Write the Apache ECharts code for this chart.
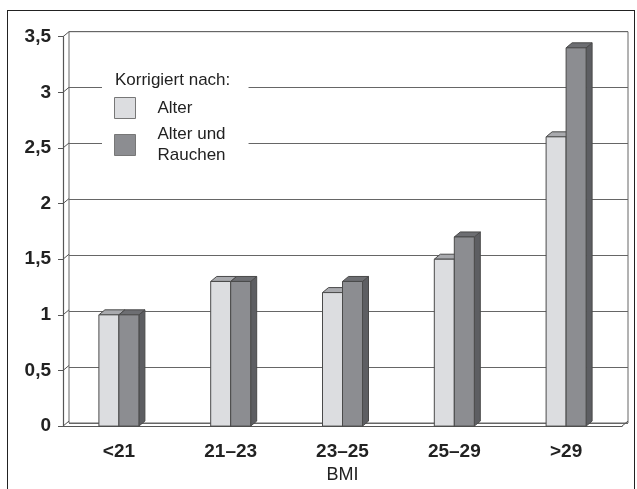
<!DOCTYPE html>
<html>
<head>
<meta charset="utf-8">
<script src="https://cdn.jsdelivr.net/npm/echarts@6/dist/echarts.min.js"></script>
<style>
  html, body { margin: 0; padding: 0; background: #fff; }
  #frame {
    position: absolute; left: 7px; top: 10px; width: 628px; height: 490px;
    border: 1.5px solid #222; box-sizing: border-box;
  }
  #chart { position: absolute; left: 0; top: 0; width: 637px; height: 489px; }
</style>
</head>
<body>
<div id="frame"></div>
<div id="chart"></div>
<script>
// data
const categories = ['<21', '21–23', '23–25', '25–29', '>29']
const alter = [1.0, 1.3, 1.2, 1.5, 2.6]
const alterRauchen = [1.0, 1.3, 1.3, 1.7, 3.4]
const yTicks = [0, 0.5, 1, 1.5, 2, 2.5, 3, 3.5]

const depthX = 6
const depthY = 5
const barW = 20
const font = '"Liberation Sans", Arial, sans-serif'

const light = { front: '#dcdde0', top: '#a9aaae', side: '#b3b4b7' }
const dark = { front: '#8c8d91', top: '#6d6e72', side: '#5d5e62' }

const makeBar = (colors, leftSide) => (params, api) => {
  const top = api.coord([api.value(0), api.value(1)])
  const base = api.coord([api.value(0), 0])
  const x0 = leftSide ? top[0] - barW : top[0]
  const x1 = x0 + barW
  const y = top[1]
  const yb = base[1]
  const stroke = { stroke: '#4a4a4a', lineWidth: 1 }
  return {
    type: 'group',
    children: [
      {
        type: 'polygon',
        shape: { points: [[x1, y], [x1 + depthX, y - depthY], [x1 + depthX, yb - depthY], [x1, yb]] },
        style: Object.assign({ fill: colors.side }, stroke)
      },
      {
        type: 'polygon',
        shape: { points: [[x0, y], [x0 + depthX, y - depthY], [x1 + depthX, y - depthY], [x1, y]] },
        style: Object.assign({ fill: colors.top }, stroke)
      },
      {
        type: 'rect',
        shape: { x: x0, y: y, width: barW, height: yb - y },
        style: Object.assign({ fill: colors.front }, stroke)
      }
    ]
  }
}

// little diagonals joining the front axis ticks with the back wall
const renderDepth = (params, api) => {
  const cs = params.coordSys
  const p = api.coord([0, api.value(0)])
  const x = cs.x
  const lines = [{
    type: 'line',
    shape: { x1: x, y1: p[1], x2: x + depthX, y2: p[1] - depthY },
    style: { stroke: '#555', lineWidth: 1 }
  }]
  if (api.value(0) === 0) {
    const xr = cs.x + cs.width
    lines.push({
      type: 'line',
      shape: { x1: xr, y1: p[1], x2: xr + depthX, y2: p[1] - depthY },
      style: { stroke: '#555', lineWidth: 1 }
    })
  }
  return { type: 'group', children: lines }
}

const chart = echarts.init(document.getElementById('chart'))

const option = {
  animation: false,
  textStyle: { fontFamily: font },
  grid: [
    { left: 63, right: 15, top: 36.7, bottom: 61 },
    { left: 63 + depthX, right: 15 - depthX, top: 36.7 - depthY, bottom: 61 + depthY,
      show: true, borderColor: '#666', borderWidth: 1 }
  ],
  xAxis: [
    {
      type: 'category',
      gridIndex: 0,
      data: categories,
      axisLine: { lineStyle: { color: '#555', width: 1.2 } },
      axisTick: { length: 4, lineStyle: { color: '#555' } },
      axisLabel: { color: '#222', fontWeight: 'bold', fontSize: 19, margin: 16, fontFamily: font },
      name: 'BMI',
      nameLocation: 'middle',
      nameGap: 35,
      nameTextStyle: { color: '#222', fontSize: 18, fontFamily: font }
    },
    { type: 'category', gridIndex: 1, data: categories, show: false }
  ],
  yAxis: [
    {
      type: 'value',
      gridIndex: 0,
      min: 0,
      max: 3.5,
      interval: 0.5,
      axisLine: { show: true, lineStyle: { color: '#555', width: 1.2 } },
      axisTick: { show: true, length: 5, lineStyle: { color: '#555' } },
      splitLine: { show: false },
      axisLabel: {
        color: '#222', fontWeight: 'bold', fontSize: 19, margin: 12, fontFamily: font,
        formatter: v => String(v).replace('.', ',')
      }
    },
    {
      type: 'value',
      gridIndex: 1,
      min: 0,
      max: 3.5,
      interval: 0.5,
      axisLine: { show: false },
      axisTick: { show: false },
      axisLabel: { show: false },
      splitLine: { lineStyle: { color: '#666', width: 1.2 } }
    }
  ],
  legend: {
    orient: 'vertical',
    left: 102,
    top: 60,
    padding: [37, 23, 20, 12],
    backgroundColor: '#fff',
    itemWidth: 21,
    itemHeight: 21,
    itemGap: 5,
    icon: 'rect',
    data: ['Alter', 'Alter und Rauchen'],
    formatter: name => name.replace('und ', 'und\n'),
    itemStyle: { borderColor: '#777', borderWidth: 1 },
    textStyle: { color: '#222', fontSize: 17, lineHeight: 21, padding: [0, 0, 0, 17], fontFamily: font }
  },
  graphic: [
    {
      type: 'text',
      left: 115,
      top: 72,
      z: 100,
      style: { text: 'Korrigiert nach:', fill: '#222', font: '17px ' + font }
    }
  ],
  series: [
    {
      name: 'Alter',
      type: 'custom',
      xAxisIndex: 0,
      yAxisIndex: 0,
      renderItem: makeBar(light, true),
      itemStyle: { color: light.front, borderColor: '#4a4a4a', borderWidth: 1 },
      encode: { x: 0, y: 1 },
      data: alter.map((v, i) => [i, v]),
      z: 3
    },
    {
      name: 'Alter und Rauchen',
      type: 'custom',
      xAxisIndex: 0,
      yAxisIndex: 0,
      renderItem: makeBar(dark, false),
      itemStyle: { color: dark.front, borderColor: '#4a4a4a', borderWidth: 1 },
      encode: { x: 0, y: 1 },
      data: alterRauchen.map((v, i) => [i, v]),
      z: 4
    },
    {
      type: 'custom',
      xAxisIndex: 0,
      yAxisIndex: 0,
      renderItem: renderDepth,
      encode: { y: 0 },
      data: yTicks.map(t => [t]),
      silent: true,
      z: 2
    }
  ]
}

chart.setOption(option)
</script>
</body>
</html>
